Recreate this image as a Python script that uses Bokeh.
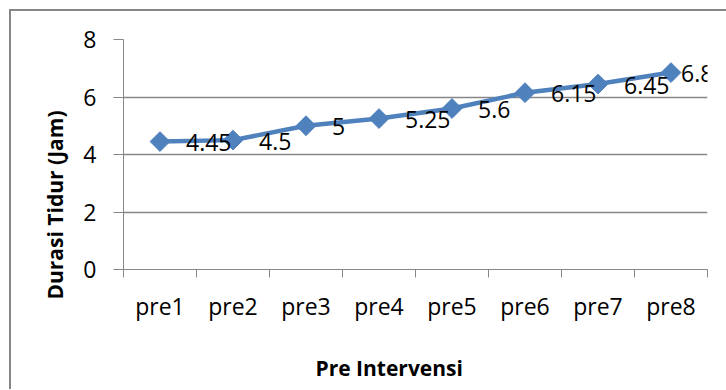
import numpy as np
from bokeh.plotting import figure
from bokeh.layouts import column
from bokeh.models import Range1d, FixedTicker, Title, ColumnDataSource, LinearAxis, Div
from bokeh.core.properties import value
from bokeh.embed import file_html
from bokeh.resources import INLINE

categories = ["pre1", "pre2", "pre3", "pre4", "pre5", "pre6", "pre7", "pre8"]
durasi = [4.45, 4.5, 5.0, 5.25, 5.6, 6.15, 6.45, 6.85]
y_ticks = [0, 2, 4, 6, 8]

FONT = "Open Sans"
BLUE = "#4F81BD"
GRAY = "#878787"

n = len(categories)
xs = [i + 0.5 for i in range(n)]
texts = [f"{v:g}" for v in durasi]
# data labels sit to the right of each point; the last one is nudged in to fit
dx = [26] * (n - 1) + [10]

src = ColumnDataSource(dict(x=xs, y=durasi, t=texts, dx=dx))

p = figure(width=715, height=378, output_backend="svg", toolbar_location=None,
           x_range=Range1d(0, n), y_range=Range1d(0, 8))
p.min_border_left = 112
p.min_border_right = 19
p.min_border_top = 28
p.min_border_bottom = 120
p.outline_line_color = None
p.background_fill_color = "white"
p.border_fill_color = "white"

# y axis
p.yaxis.ticker = FixedTicker(ticks=y_ticks)
p.yaxis.major_tick_out = 10
p.yaxis.major_tick_in = 0
p.yaxis.minor_tick_out = 0
p.yaxis.minor_tick_in = 0
p.yaxis.axis_line_color = GRAY
p.yaxis.major_tick_line_color = GRAY
p.yaxis.major_label_text_font = FONT
p.yaxis.major_label_text_font_size = "23px"
p.yaxis.major_label_text_color = "black"
p.yaxis.major_label_standoff = 17

# x axis: tick marks on category boundaries, labels on category centres
p.xaxis.ticker = FixedTicker(ticks=xs, minor_ticks=list(range(n + 1)))
p.xaxis.major_label_overrides = {x: c for x, c in zip(xs, categories)}
p.xaxis.major_tick_out = 0
p.xaxis.major_tick_in = 0
p.xaxis.minor_tick_out = 8
p.xaxis.minor_tick_in = 0
p.xaxis.minor_tick_line_color = GRAY
p.xaxis.axis_line_color = GRAY
p.xaxis.major_label_text_font = FONT
p.xaxis.major_label_text_font_size = "23px"
p.xaxis.major_label_text_color = "black"
p.xaxis.major_label_standoff = 12

# invisible spacer between the category labels and the axis title
spacer = LinearAxis(ticker=FixedTicker(ticks=[n / 2]), axis_line_color=None,
                    major_tick_line_color=None, minor_tick_line_color=None,
                    major_tick_out=24, major_tick_in=0,
                    minor_tick_out=0, minor_tick_in=0,
                    major_label_overrides={n / 2: ""},
                    major_label_text_font_size="1px", major_label_standoff=0)
p.add_layout(spacer, "below")

p.xgrid.grid_line_color = None
p.ygrid.ticker = FixedTicker(ticks=y_ticks)
p.ygrid.grid_line_color = GRAY
p.ygrid.grid_line_width = 1.5

p.line("x", "y", source=src, line_color=BLUE, line_width=4.5)
p.scatter("x", "y", source=src, marker="square", angle=np.pi / 4, size=14,
          fill_color=BLUE, line_color=BLUE)
p.text("x", "y", text="t", source=src, x_offset="dx", y_offset=1,
       text_font=value(FONT), text_font_size="23px", text_color="black",
       text_align="left", text_baseline="middle")

p.add_layout(Title(text="Pre Intervensi", align="left", offset=192,
                   vertical_align="bottom", standoff=6,
                   text_font=FONT, text_font_size="21px", text_font_style="bold",
                   text_color="black"), "below")
p.add_layout(Title(text="Durasi Tidur (Jam)", align="right", offset=71,
                   vertical_align="bottom", standoff=24,
                   text_font=FONT, text_font_size="21px", text_font_style="bold",
                   text_color="black"), "left")

# chart-area frame (top and left edges are inside the window)
top_edge = Div(width=715, height=2, margin=(0, 0, 0, 0),
               styles={"background-color": GRAY})

layout = column(top_edge, p, spacing=0,
                styles={"margin-left": "9px", "margin-top": "9px",
                        "border-left": f"2px solid {GRAY}"})

open("out.html", "w").write(file_html(layout, INLINE))
